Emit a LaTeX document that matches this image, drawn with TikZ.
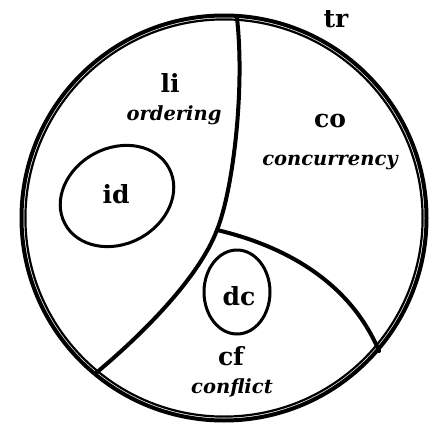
\documentclass[tikz,border=0pt]{standalone}
\usepackage{fontspec}
\setmainfont{DejaVu Serif}
\begin{document}
\begin{tikzpicture}[x=1pt,y=-1pt,
  bigl/.style={font=\fontsize{25}{27}\selectfont\bfseries, anchor=base, inner sep=0pt},
  smalll/.style={font=\fontsize{19.5}{22}\selectfont\bfseries\itshape, anchor=base, inner sep=0pt},
  divider/.style={line width=4pt, line cap=round},
  blob/.style={line width=3pt}]
\useasboundingbox (0,0) rectangle (433,434);
% outer double circle
\draw[line width=4pt] (224,218) circle[radius=202.5];
\draw[line width=2.2pt] (224,218) circle[radius=198.6];
% dividing curves
\coordinate (top) at (237,18);
\coordinate (junc) at (217,230);
\coordinate (bl) at (96,373);
\coordinate (br) at (379,351);
\draw[divider] (top) .. controls (245,90) and (233,190) .. (junc)
  .. controls (198,280) and (138,338) .. (bl);
\draw[divider] (junc) .. controls (285,246) and (350,282) .. (br);
% ellipses
\draw[blob] (117,196) ellipse[x radius=59, y radius=48, rotate=28];
\draw[blob] (237,292) ellipse[x radius=33, y radius=42];
% labels
\node[bigl] (li) at (170,92) {li};
\node[smalll] (ord) at (174,120) {ordering};
\node[bigl] (co) at (330,127) {co};
\node[smalll] (conc) at (330,165) {concurrency};
\node[bigl] (id) at (116,203) {id};
\node[bigl] (dc) at (239,305) {dc};
\node[bigl] (cf) at (231,365) {cf};
\node[smalll] (conf) at (232,393) {conflict};
\node[bigl] (tr) at (336,27) {tr};
\end{tikzpicture}
\end{document}
